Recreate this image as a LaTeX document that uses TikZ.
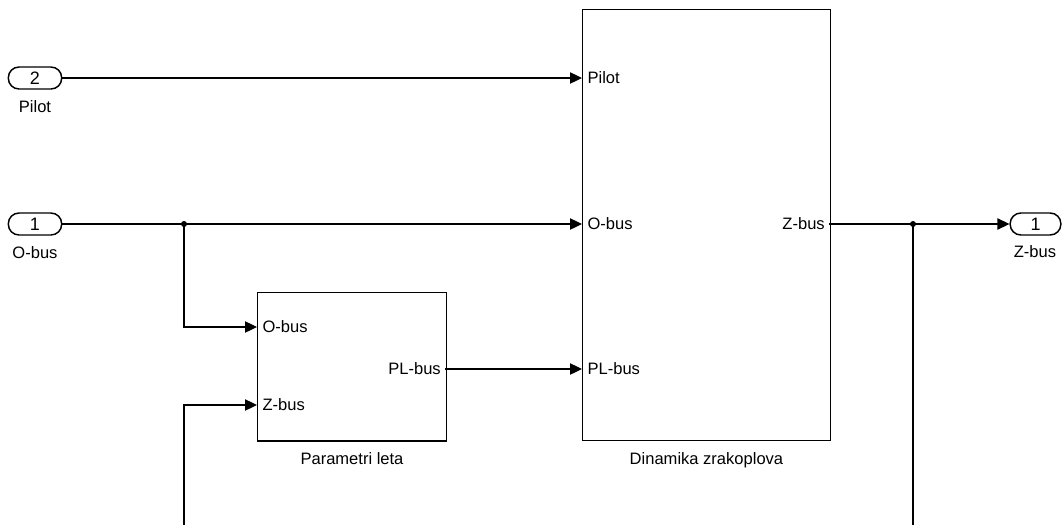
\documentclass[tikz,border=0pt]{standalone}
\usepackage{fontspec}
\setmainfont{Liberation Sans}
\usetikzlibrary{arrows.meta}
\begin{document}
\begin{tikzpicture}[x=0.75pt,y=-0.75pt,
  font=\fontsize{12.4}{14}\selectfont,
  wire/.style={line width=0.9pt},
  sig/.style={wire, -{Triangle[length=9pt,width=8.5pt]}},
  blk/.style={draw, line width=1pt, anchor=north west, inner sep=0pt},
  port/.style={draw, line width=1.1pt, rounded corners=8pt, minimum width=40pt, minimum height=16.5pt, inner sep=0pt, font=\fontsize{13.5}{15}\selectfont},
  plab/.style={inner sep=0pt},
  dot/.style={circle, fill, inner sep=0pt, minimum size=4.5pt}]
\useasboundingbox (0,0) rectangle (1064,525);

% blocks
\node[blk, minimum width=185.7pt, minimum height=323pt] (dz) at (582,9) {};
\node[blk, minimum width=141.5pt, minimum height=111.2pt] (pl) at (257,292) {};
\node[anchor=north] (dzlab) at (dz.south) [yshift=-5pt] {Dinamika zrakoplova};
\node[anchor=north] (pllab) at (pl.south) [yshift=-5pt] {Parametri leta};

% port coordinates
\coordinate (dzpilot) at (582,78);
\coordinate (dzobus) at (582,224);
\coordinate (dzpl) at (582,369);
\coordinate (dzzbus) at (829,224);
\coordinate (plobus) at (257,327);
\coordinate (plzbus) at (257,405);
\coordinate (plpl) at (445,369);

% port labels
\node[plab, anchor=west] (t1) at ([xshift=4pt]dzpilot) {Pilot};
\node[plab, anchor=west] (t2) at ([xshift=4pt]dzobus) {O-bus};
\node[plab, anchor=west] (t3) at ([xshift=4pt]dzpl) {PL-bus};
\node[plab, anchor=east] (t4) at ([xshift=-3pt]dzzbus) {Z-bus};
\node[plab, anchor=west] (t5) at ([xshift=4pt]plobus) {O-bus};
\node[plab, anchor=west] (t6) at ([xshift=4pt]plzbus) {Z-bus};
\node[plab, anchor=east] (t7) at ([xshift=-3pt]plpl) {PL-bus};

% inports / outport
\node[port] (in2) at (35,78) {2};
\node (in2lab) at (35,107) {Pilot};
\node[port] (in1) at (35,224) {1};
\node (in1lab) at (35,253) {O-bus};
\node[port, minimum width=38pt] (out1) at (1035.5,224) {1};
\node (out1lab) at (1035,252) {Z-bus};

% branch points
\node[dot] (b1) at (184,224) {};
\node[dot] (b2) at (913,224) {};
\coordinate (b1end) at (184,525);
\coordinate (b2end) at (913,525);

% wires
\draw[sig] (in2.east) -- (dzpilot);
\draw[wire] (in1.east) -- (b1.center);
\draw[sig] (b1.center) -- (dzobus);
\draw[sig] (b1.center) |- (plobus);
\draw[sig] (b1end) |- (plzbus);
\draw[sig] (plpl) -- (dzpl);
\draw[wire] (dzzbus) -- (b2.center);
\draw[sig] (b2.center) -- (out1.west);
\draw[wire] (b2.center) -- (b2end);
\end{tikzpicture}
\end{document}
